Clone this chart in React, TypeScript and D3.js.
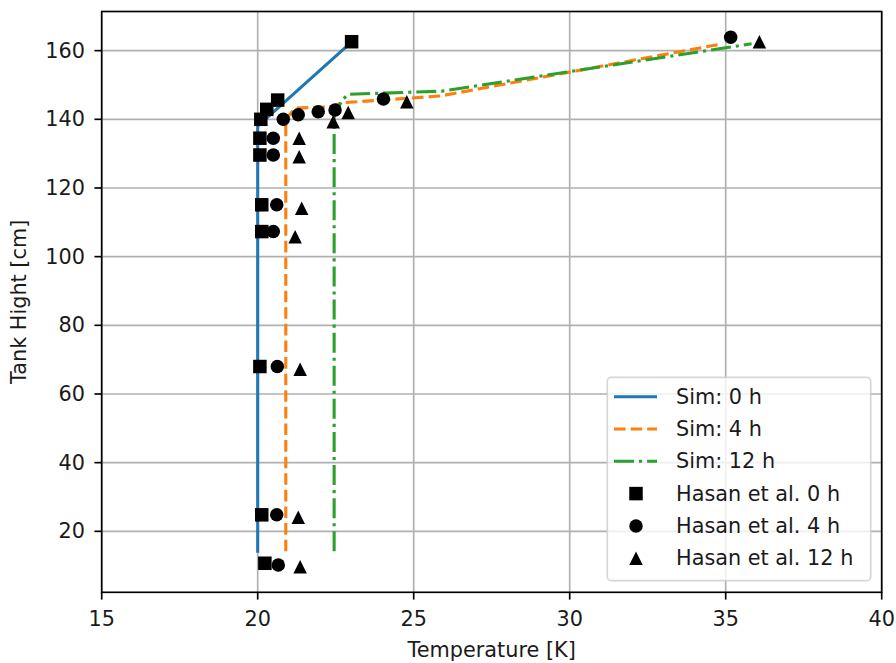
import React from "react";
import * as d3 from "d3";

const xTicks = [15, 20, 25, 30, 35, 40];
const yTicks = [20, 40, 60, 80, 100, 120, 140, 160];

const sim0T = [20.0, 20.0, 23.02];
const sim0H = [14.2, 138.0, 162.6];
const sim4T = [20.9, 20.9, 21.2, 22.35, 22.7, 25.86, 34.9];
const sim4H = [14.2, 140.0, 143.3, 143.6, 144.8, 146.8, 162.0];
const sim12T = [22.45, 22.45, 22.7, 22.9, 25.9, 35.83];
const sim12H = [14.2, 141.0, 145.5, 147.3, 148.2, 162.0];

const has0T = [23.01, 20.64, 20.29, 20.1, 20.07, 20.07, 20.13, 20.13, 20.07, 20.13, 20.23];
const has0H = [162.6, 145.6, 142.9, 140.0, 134.5, 129.6, 115.1, 107.3, 68.0, 24.8, 10.7];
const has4T = [35.16, 24.03, 22.48, 21.94, 21.3, 20.82, 20.5, 20.5, 20.61, 20.5, 20.63, 20.61, 20.66];
const has4H = [163.9, 145.9, 142.7, 142.2, 141.3, 140.0, 134.5, 129.6, 115.1, 107.3, 68.0, 24.8, 10.2];
const has12T = [36.08, 24.78, 22.9, 22.42, 21.33, 21.33, 21.41, 21.2, 21.36, 21.3, 21.36];
const has12H = [162.6, 145.1, 142.0, 139.3, 134.5, 129.1, 114.1, 105.8, 67.2, 24.1, 9.7];

const legendLabels = ["Sim: 0 h", "Sim: 4 h", "Sim: 12 h", "Hasan et al. 0 h", "Hasan et al. 4 h", "Hasan et al. 12 h"];

const W = 896, H = 663;
const L = 101.7, R = 881.7, T = 11.5, B = 592.3;
const FONT = "DejaVu Sans, sans-serif";
const FS = 20.8;
const LW = 3.1;
const MS = 13.5;
const TXT = "#1a1a1a";

const x = d3.scaleLinear().domain([15, 40]).range([L, R]);
const y = d3.scaleLinear().domain([2.24, 171.4]).range([B, T]);

const lineGen = d3.line<[number, number]>().x(d => x(d[0])).y(d => y(d[1]));
const zip = (a: number[], b: number[]) => a.map((v, i) => [v, b[i]] as [number, number]);

const C0 = "#1f77b4", C4 = "#ff7f0e", C12 = "#2ca02c";
const DASH = "11.6,5";
const DASHDOT = "20,5,3.1,5";

function Marker({ kind, cx, cy }: { kind: string; cx: number; cy: number }) {
  const h = MS / 2;
  if (kind === "s") return <rect x={cx - h} y={cy - h} width={MS} height={MS} fill="#000" />;
  if (kind === "o") return <circle cx={cx} cy={cy} r={h} fill="#000" />;
  return <path d={`M${cx},${cy - h}L${cx - h},${cy + h}L${cx + h},${cy + h}Z`} fill="#000" />;
}

export default function App() {
  const lines = [
    { t: sim0T, h: sim0H, c: C0, dash: undefined },
    { t: sim4T, h: sim4H, c: C4, dash: DASH },
    { t: sim12T, h: sim12H, c: C12, dash: DASHDOT },
  ];
  const pts = [
    { t: has0T, h: has0H, k: "s" },
    { t: has4T, h: has4H, k: "o" },
    { t: has12T, h: has12H, k: "^" },
  ];
  const lgX = 607.3, lgY = 377.3, lgW = 263.4, lgH = 203.4;
  const rowY = (i: number) => 396.7 + i * 32.3;
  return (
    <svg width={W} height={H} style={{ position: "absolute", left: 0, top: 0, fontFamily: FONT }}>
      <rect width={W} height={H} fill="#fff" />
      <defs>
        <clipPath id="plot"><rect x={L} y={T} width={R - L} height={B - T} /></clipPath>
      </defs>
      {xTicks.map(v => (
        <line key={"gx" + v} x1={x(v)} x2={x(v)} y1={T} y2={B} stroke="#b0b0b0" strokeWidth={1.67} />
      ))}
      {yTicks.map(v => (
        <line key={"gy" + v} x1={L} x2={R} y1={y(v)} y2={y(v)} stroke="#b0b0b0" strokeWidth={1.67} />
      ))}
      <g clipPath="url(#plot)">
        {lines.map((l, i) => (
          <path key={i} d={lineGen(zip(l.t, l.h)) || ""} fill="none" stroke={l.c} strokeWidth={LW}
            strokeDasharray={l.dash} strokeLinecap={l.dash ? "butt" : "square"} strokeLinejoin="round" />
        ))}
        {pts.map((p, i) => p.t.map((t, j) => <Marker key={i + "-" + j} kind={p.k} cx={x(t)} cy={y(p.h[j])} />))}
      </g>
      <rect x={L} y={T} width={R - L} height={B - T} fill="none" stroke="#000" strokeWidth={1.67} />
      {xTicks.map(v => (
        <g key={"tx" + v}>
          <line x1={x(v)} x2={x(v)} y1={B} y2={B + 7.3} stroke="#000" strokeWidth={1.67} />
          <text x={x(v)} y={625.5} textAnchor="middle" fontSize={FS} fill={TXT}>{v}</text>
        </g>
      ))}
      {yTicks.map(v => (
        <g key={"ty" + v}>
          <line x1={L - 7.3} x2={L} y1={y(v)} y2={y(v)} stroke="#000" strokeWidth={1.67} />
          <text x={85} y={y(v)} textAnchor="end" dominantBaseline="central" fontSize={FS} fill={TXT}>{v}</text>
        </g>
      ))}
      <text x={(L + R) / 2} y={656.5} textAnchor="middle" fontSize={FS} fill={TXT}>Temperature [K]</text>
      <text transform={`translate(25.5, ${(T + B) / 2}) rotate(-90)`} textAnchor="middle" fontSize={FS} fill={TXT}>Tank Hight [cm]</text>
      <rect x={lgX} y={lgY} width={lgW} height={lgH} rx={4} fill="#fff" fillOpacity={0.8} stroke="#cccccc" strokeOpacity={0.8} strokeWidth={1.67} />
      {lines.map((l, i) => (
        <line key={"ll" + i} x1={614} x2={657} y1={rowY(i)} y2={rowY(i)} stroke={l.c} strokeWidth={LW} strokeDasharray={l.dash} />
      ))}
      {pts.map((p, i) => <Marker key={"lm" + i} kind={p.k} cx={636} cy={rowY(i + 3)} />)}
      {legendLabels.map((s, i) => (
        <text key={"lt" + i} x={676} y={rowY(i)} dominantBaseline="central" fontSize={FS} fill={TXT}>{s}</text>
      ))}
    </svg>
  );
}
